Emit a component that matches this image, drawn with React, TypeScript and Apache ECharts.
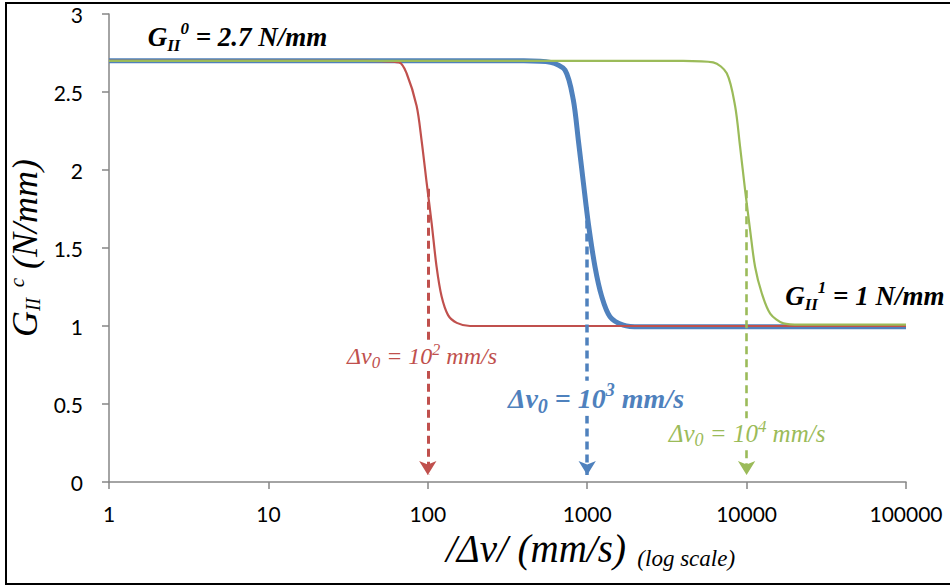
import React, { useEffect, useRef } from "react";
import * as echarts from "echarts";

// Curves (|Δv| in mm/s, G_IIc in N/mm)
const redX = [1, 40, 66, 73.6, 85.1, 91.4, 98.3, 105.7, 113.5, 122, 134, 152, 184, 300, 1000, 100000];
const redY = [2.7, 2.7, 2.69, 2.62, 2.41, 2.19, 1.92, 1.66, 1.38, 1.19, 1.07, 1.02, 1.0, 1.0, 1.0, 1.0];

const blueX = [1, 400, 589, 726, 818, 880, 946, 1016, 1119, 1233, 1390, 1686, 2140, 5000, 100000];
const blueY = [2.7, 2.7, 2.69, 2.64, 2.45, 2.19, 1.92, 1.66, 1.38, 1.19, 1.06, 1.006, 0.995, 0.995, 0.995];

const greenX = [1, 4000, 6170, 7510, 8470, 9100, 9790, 10520, 11300, 12450, 14060, 17020, 21680, 100000];
const greenY = [2.7, 2.7, 2.69, 2.62, 2.41, 2.15, 1.87, 1.615, 1.38, 1.21, 1.08, 1.017, 1.009, 1.009];

// Reference velocities and the dashed arrows
const v0Values = [100, 1000, 10000];
const arrowTop = [1.88, 1.76, 1.87];
const arrowBottom = [0.045, 0.045, 0.045];

// Annotation anchors (data coordinates)
const v0LabelX = [91.9, 1135, 10070];
const v0LabelY = [0.807, 0.537, 0.31];
const v0Exponents = ["2", "3", "4"];
const g0Anchor = [1.75, 2.85];
const g1Anchor = [17450, 1.19];

const yMin = 0;
const yMax = 3;
const yInterval = 0.5;
const xMin = 1;
const xMax = 100000;

const RED = "#C0504D";
const BLUE = "#4F81BD";
const GREEN = "#9BBB59";
const serif = "Liberation Serif";
const sans = "Lato";

const pairs = (xs: number[], ys: number[]) => xs.map((x, i) => [x, ys[i]]);

export default function App() {
  const ref = useRef<HTMLDivElement>(null);
  useEffect(() => {
    if (!ref.current) return;
    const chart = echarts.init(ref.current, null, { renderer: "svg" });
    const colors = [RED, BLUE, GREEN];
    const widths = [2.2, 5, 2.2];
    const dashW = [3, 3.5, 2.6];
    const xs = [redX, blueX, greenX];
    const ys = [redY, blueY, greenY];
    const order = [1, 0, 2]; // blue drawn first, then red, then green

    const series = order.map((k) => ({
      type: "line",
      name: "s" + k,
      data: pairs(xs[k], ys[k]),
      showSymbol: false,
      smooth: 0.3,
      lineStyle: { color: colors[k], width: widths[k] },
      z: 2 + order.indexOf(k),
      markLine: {
        silent: true,
        symbol: ["none", "arrow"],
        symbolSize: [13, 14],
        label: { show: false },
        lineStyle: { color: colors[k], width: dashW[k], type: [8, 5] },
        data: [[{ coord: [v0Values[k], arrowTop[k]] }, { coord: [v0Values[k], arrowBottom[k]] }]],
      },
    }));

    const it = (size: number, extra: any = {}) => ({
      fontFamily: serif,
      fontStyle: "italic",
      fontSize: size,
      color: "#000",
      ...extra,
    });

    chart.setOption({
      animation: false,
      grid: { left: 109, right: 44, top: 14, bottom: 103, outerBoundsMode: "none", containLabel: false },
      xAxis: {
        type: "log",
        logBase: 10,
        min: xMin,
        max: xMax,
        axisLine: { lineStyle: { color: "#868686", width: 1.5 } },
        axisTick: { show: true, length: 7, lineStyle: { color: "#868686", width: 1.5 } },
        axisLabel: {
          color: "#000",
          fontFamily: sans,
          fontSize: 21,
          margin: 21,
          formatter: (v: number) => String(Math.round(v)),
        },
        splitLine: { show: false },
        name: "{a|/Δv/ (mm/s)}{b|  (log scale)}",
        nameLocation: "middle",
        nameGap: 36,
        nameTextStyle: {
          padding: [0, 0, 0, 166],
          rich: {
            a: it(39, { lineHeight: 44 }),
            b: it(23, { lineHeight: 30, verticalAlign: "bottom" }),
          },
        },
      },
      yAxis: {
        type: "value",
        min: yMin,
        max: yMax,
        interval: yInterval,
        axisLine: { show: true, lineStyle: { color: "#868686", width: 1.5 } },
        axisTick: { show: true, length: 7, lineStyle: { color: "#868686", width: 1.5 } },
        axisLabel: { color: "#000", fontFamily: sans, fontSize: 21, margin: 26 },
        splitLine: { show: false },
        name: "{g|G}{s|II}{p|  c}{g| (N/mm)}",
        nameLocation: "middle",
        nameGap: 60,
        nameTextStyle: {
          rich: {
            g: it(36, { lineHeight: 36 }),
            s: it(20, { lineHeight: 26, verticalAlign: "bottom" }),
            p: it(21, { lineHeight: 16, verticalAlign: "top" }),
          },
        },
      },
      series,
    });

    const px = (x: number, y: number) => chart.convertToPixel({ gridIndex: 0 }, [x, y]) as number[];

    const v0Sizes = [24, 28, 25];
    const v0Weights = ["normal", "bold", "normal"];
    const graphics: any[] = [
      {
        type: "rect",
        shape: { x: 6, y: 3, width: 950, height: 581 },
        style: { fill: "none", stroke: "#000", lineWidth: 2 },
        z: 20,
        silent: true,
      },
    ];
    for (let k = 0; k < 3; k++) {
      const p = px(v0LabelX[k], v0LabelY[k]);
      const fs = v0Sizes[k];
      const L = Math.round(fs * 1.25);
      const base = {
        fontFamily: serif,
        fontStyle: "italic",
        fontWeight: v0Weights[k],
        fontSize: fs,
        fill: colors[k],
      };
      graphics.push({
        type: "text",
        x: p[0],
        y: p[1],
        z: 30,
        silent: true,
        style: {
          text: `{m|Δv}{s|0}{m| = 10}{p|${v0Exponents[k]}}{m| mm/s}`,
          align: "center",
          verticalAlign: "middle",
          backgroundColor: "#fff",
          padding: [0, 3, 0, 3],
          rich: {
            m: { ...base, lineHeight: L },
            s: { ...base, fontSize: Math.round(fs * 0.72), lineHeight: Math.round(fs * 0.85), verticalAlign: "bottom" },
            p: { ...base, fontSize: Math.round(fs * 0.66), lineHeight: Math.round(fs * 0.9), verticalAlign: "top" },
          },
        },
      });
    }
    const gBase = {
      fontFamily: serif,
      fontStyle: "italic",
      fontWeight: "bold",
      fontSize: 27,
      fill: "#000",
    };
    const gRich = {
      g: { ...gBase, lineHeight: 34 },
      s: { ...gBase, fontSize: 17, lineHeight: 20, verticalAlign: "bottom" },
      p: { ...gBase, fontSize: 17, lineHeight: 22, verticalAlign: "top" },
    };
    const p0 = px(g0Anchor[0], g0Anchor[1]);
    graphics.push({
      type: "text",
      x: p0[0],
      y: p0[1],
      z: 30,
      silent: true,
      style: { text: "{g|G}{s|II}{p|0}{g| = 2.7 N/mm}", align: "left", verticalAlign: "middle", rich: gRich },
    });
    const p1 = px(g1Anchor[0], g1Anchor[1]);
    graphics.push({
      type: "text",
      x: p1[0],
      y: p1[1],
      z: 30,
      silent: true,
      style: { text: "{g|G}{s|II}{p|1}{g| = 1 N/mm}", align: "left", verticalAlign: "middle", rich: gRich },
    });
    chart.setOption({ graphic: { elements: graphics } });

    return () => chart.dispose();
  }, []);
  return (
    <div
      ref={ref}
      style={{ position: "fixed", left: 0, top: 0, width: 950, height: 585, background: "#fff" }}
    />
  );
}
